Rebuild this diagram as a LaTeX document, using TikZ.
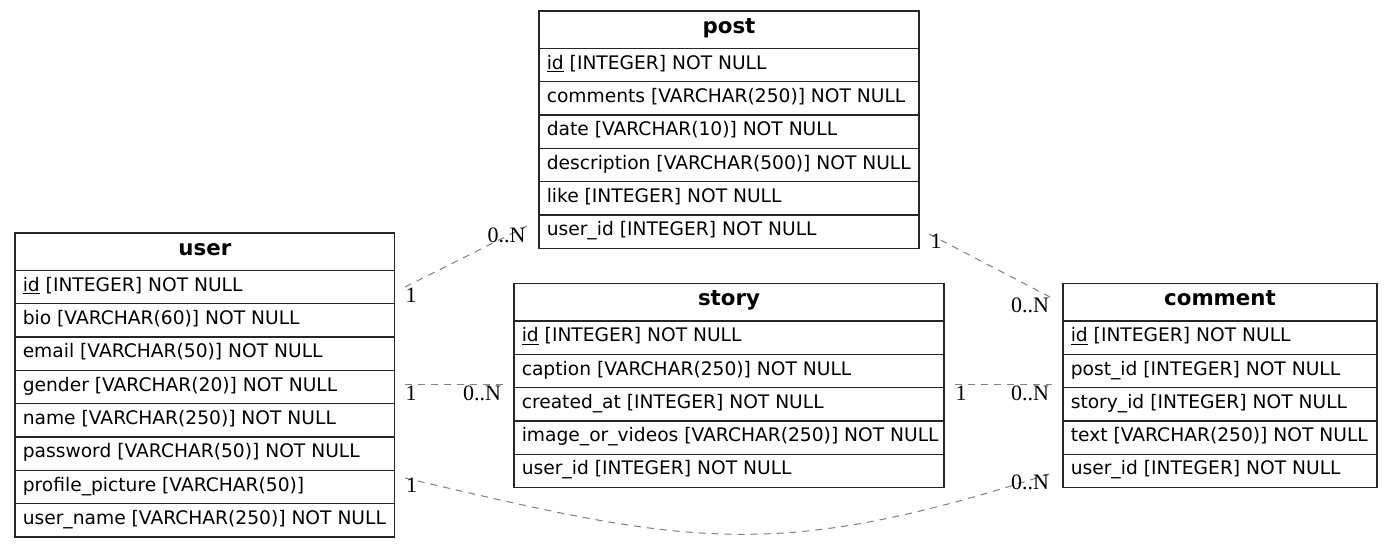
\documentclass[tikz,border=0pt]{standalone}
\usepackage{fontspec}
\setmainfont{DejaVu Sans}
\newfontfamily\lblfont{Liberation Serif}
\tikzset{
  x=0.75pt, y=-0.75pt,
  erdbox/.style={draw=black!85, line width=1pt, inner sep=0pt, outer sep=0pt},
  erdline/.style={draw=black!85, line width=1pt},
  erdhead/.style={inner sep=0pt, font=\fontsize{16}{18}\selectfont\bfseries},
  erdrow/.style={inner sep=0pt, font=\fontsize{14}{16}\selectfont},
  rel/.style={draw=black!50, line width=0.75pt, dash pattern=on 5.25pt off 4.5pt},
  card/.style={inner sep=0pt, anchor=base, font=\lblfont\fontsize{16.5}{18}\selectfont},
}
% #1 id, #2 left, #3 top, #4 right, #5 title, #6 number of rows, #7 rows
\newcommand\erdtable[7]{%
  \pgfmathsetmacro\erdW{(#4-#2)*0.75}%
  \pgfmathsetmacro\erdH{(37.5+#6*33.3)*0.75}%
  \node[erdbox, anchor=north west, minimum width=\erdW pt, minimum height=\erdH pt] (#1) at (#2,#3) {};
  \node[erdhead, anchor=base] (#1-head) at ({(#2+#4)/2}, #3+22.5) {#5};
  \foreach \r [count=\i] in {#7} {
    \pgfmathsetmacro\ry{#3+37.5+(\i-1)*33.3}
    \draw[erdline] (#2,\ry) -- (#4,\ry);
    \node[erdrow, anchor=base west] (#1-\i) at (#2+7.5, \ry+20.8) {\r};
  }
}
\begin{document}
\begin{tikzpicture}
\useasboundingbox (0,0) rectangle (1392,548);
\fill[white] (0,0) rectangle (1392,548);

\erdtable{post}{539}{11}{919}{post}{6}{%
  {\underline{id} [INTEGER] NOT NULL},
  {comments [VARCHAR(250)] NOT NULL},
  {date [VARCHAR(10)] NOT NULL},
  {description [VARCHAR(500)] NOT NULL},
  {like [INTEGER] NOT NULL},
  {user\_id [INTEGER] NOT NULL}}

\erdtable{user}{15}{233}{394.7}{user}{8}{%
  {\underline{id} [INTEGER] NOT NULL},
  {bio [VARCHAR(60)] NOT NULL},
  {email [VARCHAR(50)] NOT NULL},
  {gender [VARCHAR(20)] NOT NULL},
  {name [VARCHAR(250)] NOT NULL},
  {password [VARCHAR(50)] NOT NULL},
  {profile\_picture [VARCHAR(50)]},
  {user\_name [VARCHAR(250)] NOT NULL}}

\erdtable{story}{514}{283.5}{944}{story}{5}{%
  {\underline{id} [INTEGER] NOT NULL},
  {caption [VARCHAR(250)] NOT NULL},
  {created\_at [INTEGER] NOT NULL},
  {image\_or\_videos [VARCHAR(250)] NOT NULL},
  {user\_id [INTEGER] NOT NULL}}

\erdtable{comment}{1063}{283.5}{1377}{comment}{5}{%
  {\underline{id} [INTEGER] NOT NULL},
  {post\_id [INTEGER] NOT NULL},
  {story\_id [INTEGER] NOT NULL},
  {text [VARCHAR(250)] NOT NULL},
  {user\_id [INTEGER] NOT NULL}}

% connector ends
\coordinate (e1a) at (405,287);
\coordinate (e1b) at (527,226);
\coordinate (e2a) at (405,385);
\coordinate (e2b) at (507,385);
\coordinate (e3a) at (405,478);
\coordinate (e3b) at (1052,473);
\coordinate (e3c) at (685,543.5);
\coordinate (e3d) at (772,564);
\coordinate (e4a) at (929,234);
\coordinate (e4b) at (1050,297);
\coordinate (e5a) at (955,385);
\coordinate (e5b) at (1052,385);

\draw[rel] (e1a) -- (e1b);
\draw[rel] (e2a) -- (e2b);
\draw[rel] (e3a) .. controls (e3c) and (e3d) .. (e3b);
\draw[rel] (e4a) -- (e4b);
\draw[rel] (e5a) -- (e5b);

% cardinalities
\node[card] (c1a) at (411,303) {1};
\node[card] (c1b) at (506.5,243) {0..N};
\node[card] (c2a) at (411,401) {1};
\node[card] (c2b) at (482,401) {0..N};
\node[card] (c3a) at (411.5,493) {1};
\node[card] (c3b) at (1030,489) {0..N};
\node[card] (c4a) at (936,249) {1};
\node[card] (c4b) at (1030,313) {0..N};
\node[card] (c5a) at (961,401) {1};
\node[card] (c5b) at (1030,401) {0..N};
\end{tikzpicture}
\end{document}
